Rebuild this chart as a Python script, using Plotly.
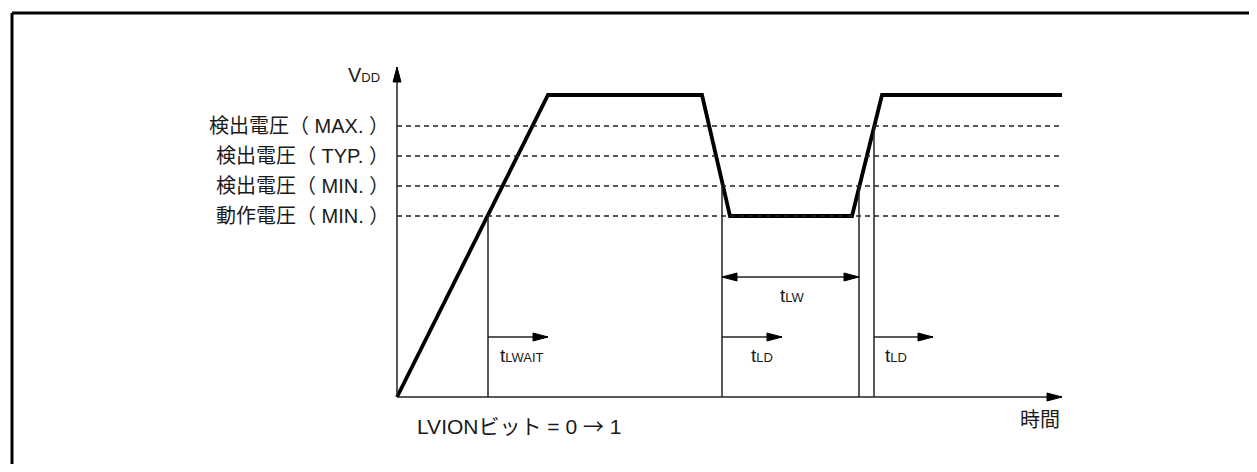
import plotly.graph_objects as go

# 電圧波形 (time, voltage) in diagram units; origin = axis crossing
wave_t = [0, 151, 305, 333, 455, 485, 665]
wave_v = [0, 302, 302, 181, 181, 302, 302]

# 検出レベル
level_names = ["検出電圧（ MAX. ）", "検出電圧（ TYP. ）", "検出電圧（ MIN. ）", "動作電圧（ MIN. ）"]
level_v = [271, 241, 211, 181]
t_end = 665

# 縦の補助線 (t, 上端の電圧)
mark_t = [91, 325, 462, 477]
mark_top = [181, 211, 211, 271]

# 時間矢印 (始点, 終点, 高さ, ラベル, ラベル位置)
arrows = [
    (91, 151, 60, "LWAIT", 101),
    (325, 385, 60, "LD", 352),
    (477, 536, 60, "LD", 486),
]
tlw = (325, 462, 120, "LW", 381)

FONT = "Liberation Sans, Arial, Noto Sans CJK JP, sans-serif"
LINE = "#222222"
TXT = "#1a1a1a"


def tsub(s):
    return 't<span style="font-size:13px">' + s + '</span>'


shapes = []


def head(x, y, dx, dy, L=15, W=4):
    # 塗りつぶし三角の矢じり (1単位 = 1px)
    bx, by = x - dx * L, y - dy * L
    px, py = -dy * W, dx * W
    path = "M %g %g L %g %g L %g %g Z" % (x, y, bx + px, by + py, bx - px, by - py)
    shapes.append(dict(type="path", path=path, fillcolor="black", line=dict(color="black", width=1)))


def arrow(x0, y0, x1, y1, both=False):
    shapes.append(dict(type="line", x0=x0, y0=y0, x1=x1, y1=y1, line=dict(color=LINE, width=1.5)))
    d = ((x1 - x0) ** 2 + (y1 - y0) ** 2) ** 0.5
    dx, dy = (x1 - x0) / d, (y1 - y0) / d
    head(x1, y1, dx, dy)
    if both:
        head(x0, y0, -dx, -dy)


# 枠 (paper座標, 右端と下端はページ外まで)
fx, fy = 4 / 1241, 451 / 456
shapes.append(dict(type="line", xref="paper", yref="paper", x0=fx, y0=fy, x1=1.02, y1=fy,
                   line=dict(color="black", width=3)))
shapes.append(dict(type="line", xref="paper", yref="paper", x0=fx, y0=fy, x1=fx, y1=-0.05,
                   line=dict(color="black", width=3)))

# 破線レベル
for v in level_v:
    shapes.append(dict(type="line", x0=0, y0=v, x1=t_end, y1=v,
                       line=dict(color="#222222", width=1.3, dash="5px,4px")))

# 縦線
for t, top in zip(mark_t, mark_top):
    shapes.append(dict(type="line", x0=t, y0=0, x1=t, y1=top, line=dict(color=LINE, width=1.5)))

# 軸
arrow(0, 0, 0, 330)
arrow(0, 0, 665, 0)

fig = go.Figure()

# 波形
fig.add_trace(go.Scatter(x=wave_t, y=wave_v, mode="lines",
                         line=dict(color="black", width=3.8), hoverinfo="skip", showlegend=False))

ann = []
for x0, x1, v, lab, lx in arrows:
    arrow(x0, v, x1, v)
    ann.append(dict(x=lx, y=v - 18, xref="x", yref="y", text=tsub(lab), showarrow=False,
                    xanchor="left", yanchor="middle", font=dict(size=19, family=FONT, color=TXT)))

x0, x1, v, lab, lx = tlw
arrow(x0, v, x1, v, both=True)
ann.append(dict(x=lx, y=v - 18, xref="x", yref="y", text=tsub(lab), showarrow=False,
                xanchor="left", yanchor="middle", font=dict(size=19, family=FONT, color=TXT)))

# レベルラベル
for name, v in zip(level_names, level_v):
    ann.append(dict(x=-6, y=v, xref="x", yref="y", text=name, showarrow=False,
                    xanchor="right", yanchor="middle", font=dict(size=20, family=FONT, color=TXT)))

ann.append(dict(x=-15, y=322, xref="x", yref="y",
                text='V<span style="font-size:13px">DD</span>', showarrow=False,
                xanchor="right", yanchor="middle", font=dict(size=20, family=FONT, color=TXT)))
ann.append(dict(x=665, y=-23, xref="x", yref="y", text="時間", showarrow=False,
                xanchor="right", yanchor="middle", font=dict(size=20, family=FONT, color=TXT)))
ann.append(dict(x=18, y=-28, xref="x", yref="y",
                text='LVIONビット = 0 <span style="font-family:Noto Sans CJK JP">→</span> 1',
                showarrow=False, xanchor="left", yanchor="middle",
                font=dict(size=21, family=FONT, color=TXT)))

fig.update_layout(
    shapes=shapes,
    annotations=ann,
    width=1241, height=456,
    margin=dict(l=0, r=0, t=0, b=0),
    paper_bgcolor="white", plot_bgcolor="white",
    xaxis=dict(range=[-389, 852], visible=False, fixedrange=True),
    yaxis=dict(range=[-67, 389], visible=False, fixedrange=True),
    showlegend=False,
)

fig.write_html("out.html")
